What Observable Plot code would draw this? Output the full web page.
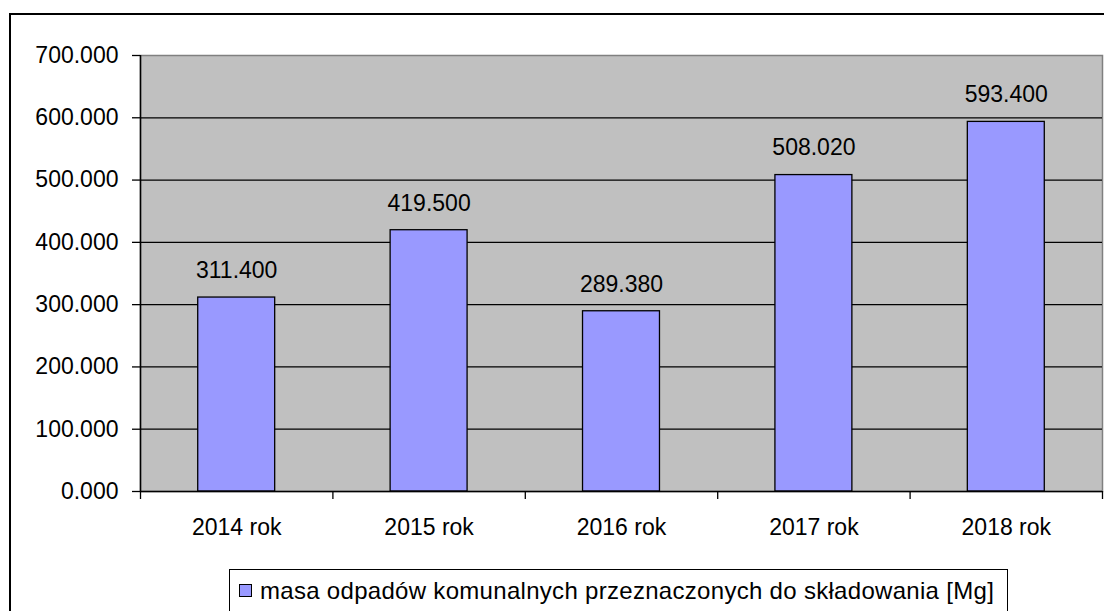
<!DOCTYPE html>
<html><head><meta charset="utf-8">
<script src="https://cdn.jsdelivr.net/npm/d3@7"></script>
<script src="https://cdn.jsdelivr.net/npm/@observablehq/plot@0.6"></script>
<style>
body{margin:0;background:#fff;overflow:hidden;font-family:"Liberation Sans",Arial,sans-serif;}
#frame{position:absolute;left:9px;top:13px;width:1130px;height:650px;border:2px solid #000;box-sizing:border-box;}
#chart{position:absolute;left:0;top:0;}
#legend{position:absolute;left:229px;top:569px;width:779px;height:70px;border:1.5px solid #000;box-sizing:border-box;background:#fff;font-size:24px;letter-spacing:0.3px;color:#000;white-space:nowrap;}
#legend .sw{position:absolute;left:9px;top:14px;width:13px;height:13px;background:#9999ff;border:1.3px solid #000;box-sizing:border-box;}
#legend .lt{position:absolute;left:30px;top:8px;line-height:26px;}
</style></head>
<body>
<div id="frame"></div>
<div id="chart"></div>
<div id="legend"><div class="sw"></div><div class="lt">masa odpadów komunalnych przeznaczonych do składowania [Mg]</div></div>
<script>
const categories = ["2014 rok", "2015 rok", "2016 rok", "2017 rok", "2018 rok"];
const values = [311.4, 419.5, 289.38, 508.02, 593.4];
const yTicks = [0, 100, 200, 300, 400, 500, 600, 700];
const seriesName = "masa odpadów komunalnych przeznaczonych do składowania [Mg]";

const data = categories.map((c, i) => ({cat: c, v: values[i]}));
const W = 1104, H = 560, mL = 140, mR = 2, mT = 55, mB = 69;
const step = (W - mL - mR) / categories.length;
const fmt = d3.format(".3f");

const chart = Plot.plot({
  width: W, height: H,
  marginLeft: mL, marginRight: mR, marginTop: mT, marginBottom: mB,
  style: {fontFamily: "'Liberation Sans', Arial, sans-serif", fontSize: "23px", color: "#000", background: "transparent"},
  x: {domain: categories, paddingInner: 0.6, paddingOuter: 0.3, round: false, label: null},
  y: {domain: [0, 700], label: null},
  marks: [
    Plot.frame({fill: "#c0c0c0", stroke: "#808080", strokeWidth: 1.5}),
    Plot.gridY(yTicks.filter(t => t > 0 && t < 700), {stroke: "#000", strokeOpacity: 1, strokeWidth: 1.3}),
    Plot.barY(data, {x: "cat", y: "v", fill: "#9999ff", stroke: "#000", strokeWidth: 1.3}),
    Plot.text(data, {x: "cat", y: "v", text: d => fmt(d.v), dy: -27, fontSize: 23, fill: "#000"}),
    Plot.ruleY([0], {stroke: "#000", strokeWidth: 1.5}),
    Plot.ruleX([categories[0]], {x: d => d, dx: -step / 2, stroke: "#000", strokeWidth: 1.5}),
    Plot.ruleX(categories, {x: d => d, dx: -step / 2, y1: 0, y2: 0, insetBottom: -8, stroke: "#000", strokeWidth: 1.3}),
    Plot.ruleX([categories[categories.length - 1]], {x: d => d, dx: step / 2, y1: 0, y2: 0, insetBottom: -8, stroke: "#000", strokeWidth: 1.3}),
    Plot.axisY({ticks: yTicks, tickFormat: fmt, tickSize: 8, tickPadding: 14, fontSize: 23, stroke: "#000", strokeWidth: 1.3}),
    Plot.axisX({tickSize: 0, tickPadding: 27, fontSize: 23})
  ]
});
document.getElementById("chart").appendChild(chart);
</script>
</body></html>
